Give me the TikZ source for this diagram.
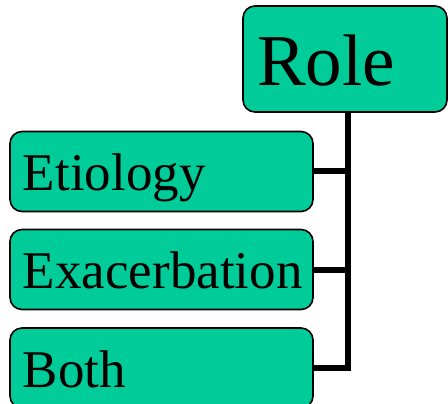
\documentclass[tikz,border=0pt]{standalone}
\usepackage{fontspec}
\setmainfont{Liberation Serif}
\definecolor{boxgreen}{HTML}{00CC99}
\begin{document}
\begin{tikzpicture}[x=1pt,y=-1pt,
  box/.style={draw=black, line width=1.6pt, fill=boxgreen, rounded corners=12pt,
    inner ysep=0pt, align=left, anchor=center},
  rootbox/.style={box, inner xsep=14pt, text width=176pt, minimum height=106pt,
    font=\fontsize{73}{73}\selectfont, text height=61pt, text depth=8pt},
  itembox/.style={box, inner xsep=13pt, text width=277pt, minimum height=80pt,
    font=\fontsize{53}{53}\selectfont, text height=45pt, text depth=7pt},
  conn/.style={draw=black, line width=6pt, line join=miter}
]
\clip (0,0) rectangle (448,404);

\node[rootbox] (role) at (345,59) {Role};
\node[itembox] (etiology) at (161.5,171.5) {Etiology};
\node[itembox] (exacerbation) at (161.5,269.5) {Exacerbation};
\node[itembox] (both) at (161.5,368) {Both};

% trunk line from the root down to the last item
\coordinate (trunk) at (347.5,112);
\draw[conn] (role.south -| trunk) |- (both.east);
\draw[conn] (etiology.east) -- (etiology.east -| trunk);
\draw[conn] (exacerbation.east) -- (exacerbation.east -| trunk);
\end{tikzpicture}
\end{document}
